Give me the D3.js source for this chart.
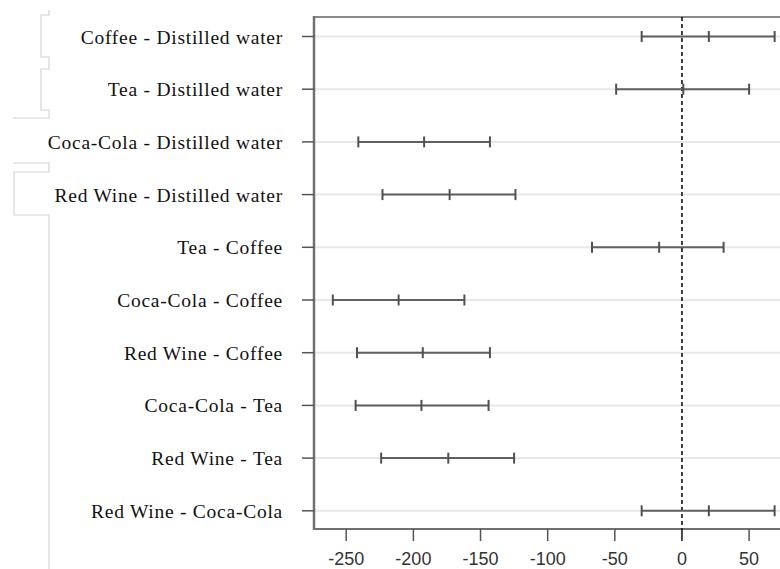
<!DOCTYPE html>
<html>
<head>
<meta charset="utf-8">
<script src="https://cdn.jsdelivr.net/npm/d3@7/dist/d3.min.js"></script>
<style>
  html, body { margin: 0; padding: 0; background: #fff; }
  svg { display: block; }
</style>
</head>
<body>
<svg id="chart" width="780" height="569"></svg>
<script>
// ---- data ----
const comparisons = [
  "Coffee - Distilled water",
  "Tea - Distilled water",
  "Coca-Cola - Distilled water",
  "Red Wine - Distilled water",
  "Tea - Coffee",
  "Coca-Cola - Coffee",
  "Red Wine - Coffee",
  "Coca-Cola - Tea",
  "Red Wine - Tea",
  "Red Wine - Coca-Cola"
];
const diffs  = [20,   1, -192, -173, -17, -211, -193, -194, -174,  20];
const lowers = [-30, -49, -241, -223, -67, -260, -242, -243, -224, -30];
const uppers = [69,  50, -143, -124,  31, -162, -143, -144, -125,  69];
const xTicks = [-250, -200, -150, -100, -50, 0, 50];

// ---- layout ----
const svg = d3.select("#chart");
const W = 780, H = 569;
const plotLeft = 314, plotRight = 780, plotTop = 17, plotBottom = 529;

const x = d3.scaleLinear().domain([-274, 73]).range([plotLeft, plotRight]);
const y = d3.scalePoint().domain(comparisons).range([36.5, 510.8]);

// decorative light-gray margin brackets at far left
const deco = d3.path();
deco.moveTo(49, 10); deco.lineTo(49, 15); deco.lineTo(41, 15); deco.lineTo(41, 57); deco.lineTo(49, 57);
deco.lineTo(49, 69); deco.lineTo(41, 69); deco.lineTo(41, 110); deco.lineTo(49, 110); deco.lineTo(49, 118); deco.lineTo(13, 118);
deco.moveTo(13, 163); deco.lineTo(49, 163); deco.lineTo(49, 172); deco.lineTo(14, 172); deco.lineTo(14, 215); deco.lineTo(49, 215); deco.lineTo(49, H);
svg.append("path").attr("d", deco.toString())
  .attr("fill", "none").attr("stroke", "#d4d4d4").attr("stroke-width", 1.2);

// horizontal grid lines for each comparison
svg.append("g").selectAll("line").data(comparisons).join("line")
  .attr("x1", plotLeft).attr("x2", plotRight)
  .attr("y1", d => y(d)).attr("y2", d => y(d))
  .attr("stroke", "#e8e8e8").attr("stroke-width", 2);

// plot frame: top and left/bottom
svg.append("line").attr("x1", plotLeft).attr("x2", plotRight).attr("y1", plotTop).attr("y2", plotTop)
  .attr("stroke", "#8a8a8a").attr("stroke-width", 2);
svg.append("line").attr("x1", plotLeft).attr("x2", plotRight).attr("y1", plotBottom).attr("y2", plotBottom)
  .attr("stroke", "#707070").attr("stroke-width", 2);
svg.append("line").attr("x1", plotLeft).attr("x2", plotLeft).attr("y1", plotTop - 1).attr("y2", plotBottom + 1)
  .attr("stroke", "#707070").attr("stroke-width", 2.5);

// left axis: ticks + labels
const yAxis = svg.append("g");
yAxis.selectAll("line").data(comparisons).join("line")
  .attr("x1", plotLeft - 12).attr("x2", plotLeft)
  .attr("y1", d => y(d)).attr("y2", d => y(d))
  .attr("stroke", "#555").attr("stroke-width", 1.5);
yAxis.selectAll("text").data(comparisons).join("text")
  .attr("x", 283).attr("y", d => y(d) + 7)
  .attr("text-anchor", "end")
  .attr("font-family", "'Liberation Serif', 'Times New Roman', serif")
  .attr("font-size", "19.5px")
  .attr("letter-spacing", "0.75px")
  .attr("fill", "#111")
  .text(d => d);

// bottom axis ticks + labels
const xAxis = svg.append("g");
xAxis.selectAll("line").data(xTicks).join("line")
  .attr("x1", d => x(d)).attr("x2", d => x(d))
  .attr("y1", plotBottom).attr("y2", plotBottom + 12)
  .attr("stroke", d => d === 0 ? "#111" : "#555").attr("stroke-width", 1.5);
xAxis.selectAll("text").data(xTicks).join("text")
  .attr("x", d => x(d)).attr("y", 564.5)
  .attr("text-anchor", "middle")
  .attr("font-family", "'Liberation Sans', Arial, sans-serif")
  .attr("font-size", "18px")
  .attr("fill", "#333")
  .text(d => d);

// dashed zero reference line
svg.append("line")
  .attr("x1", x(0)).attr("x2", x(0))
  .attr("y1", plotTop).attr("y2", plotBottom)
  .attr("stroke", "#111").attr("stroke-width", 1.6)
  .attr("stroke-dasharray", "4,3");

// error bars
const bars = svg.append("g");
const rows = comparisons.map((c, i) => ({ c, d: diffs[i], lo: lowers[i], hi: uppers[i] }));
bars.selectAll("line.bar").data(rows).join("line")
  .attr("class", "bar")
  .attr("x1", r => x(r.lo)).attr("x2", r => x(r.hi))
  .attr("y1", r => y(r.c)).attr("y2", r => y(r.c))
  .attr("stroke", "#606060").attr("stroke-width", 2);
const caps = rows.flatMap(r => [r.lo, r.d, r.hi].map(v => ({ c: r.c, v })));
bars.selectAll("line.cap").data(caps).join("line")
  .attr("class", "cap")
  .attr("x1", k => x(k.v)).attr("x2", k => x(k.v))
  .attr("y1", k => y(k.c) - 5.5).attr("y2", k => y(k.c) + 5.5)
  .attr("stroke", "#505050").attr("stroke-width", 2);
</script>
</body>
</html>
